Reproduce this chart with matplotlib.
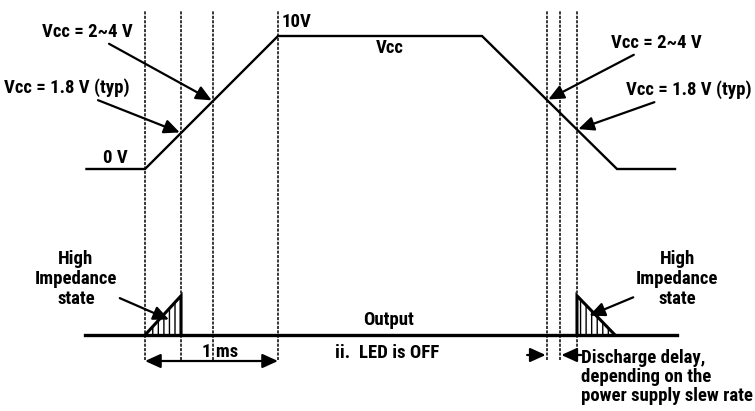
import numpy as np
import matplotlib
matplotlib.use("Agg")
import matplotlib.pyplot as plt
from matplotlib import font_manager
from matplotlib.patches import Polygon
from matplotlib.transforms import Affine2D

# ---------------- data ----------------
# Vcc waveform: time in ms, level in V
vcc_time = [-0.44, 0.0, 1.0, 2.534, 3.549, 3.985]
vcc_level = [0.0, 0.0, 10.0, 10.0, 0.0, 0.0]

# threshold marker times (ms): power-up and power-down
rise_marks = [0.0, 0.271, 0.511, 1.0]
fall_marks = [3.023, 3.120, 3.248]

# output (LED) row: high-impedance ramps
out_time_span = [-0.45, 4.0]
hiz_on = [0.0, 0.271]      # ramp up, then cut
hiz_off = [3.248, 3.534]   # cut up, ramp down
hiz_height = 2.95

labels_left = ["Vcc = 2~4 V", "Vcc = 1.8 V (typ)"]
labels_right = ["Vcc = 2~4 V", "Vcc = 1.8 V (typ)"]

# ---------------- layout ----------------
W, H = 755, 411
X0, XS = 145.0, 133.0     # pixel of t=0, px per ms
Y0, YS = 169.0, 13.3      # pixel of 0 V, px per V
OUT_BASE = (Y0 - 335) / YS

names = {f.name for f in font_manager.fontManager.ttflist}
fam = [n for n in ["Liberation Sans Narrow", "Roboto Condensed", "DejaVu Sans"] if n in names] + ["DejaVu Sans"]
plt.rcParams["font.family"] = fam
plt.rcParams["font.weight"] = "bold"
plt.rcParams["hatch.linewidth"] = 1.0

fig = plt.figure(figsize=(W / 100, H / 100), dpi=100)
ax = fig.add_axes([0, 0, 1, 1])
ax.set_xlim(-X0 / XS, (W - X0) / XS)
ax.set_ylim((Y0 - H) / YS, Y0 / YS)
ax.axis("off")
pix = Affine2D().scale(1 / W, -1 / H).translate(0, 1) + fig.transFigure

FS = 13.5

# Vcc waveform
ax.plot(vcc_time, vcc_level, color="black", lw=1.7, solid_joinstyle="miter")

# dashed markers
dash_top = (Y0 - 10) / YS
dash_bot = (Y0 - 360) / YS
for t in rise_marks + fall_marks:
    ax.plot([t, t], [dash_bot, dash_top], color="black", lw=1.1,
            linestyle=(0, (2.0, 0.9)))

# crossing points
def vcc_at(t):
    return float(np.interp(t, vcc_time, vcc_level))

arrow_kw = dict(arrowstyle="-|>,head_length=0.55,head_width=0.25", color="black",
                lw=1.6, shrinkA=0, shrinkB=1, mutation_scale=17)

# left annotations
ax.annotate(labels_left[0], xy=(rise_marks[2], vcc_at(rise_marks[2])),
            xytext=(133, 32), textcoords=pix, ha="right", va="center",
            fontsize=FS, arrowprops=arrow_kw)
ax.annotate(labels_left[1], xy=(rise_marks[1], vcc_at(rise_marks[1])),
            xytext=(130, 88), textcoords=pix, ha="right", va="center",
            fontsize=FS, arrowprops=arrow_kw)
# right annotations
ax.annotate(labels_right[0], xy=(fall_marks[0], vcc_at(fall_marks[0])),
            xytext=(611, 43), textcoords=pix, ha="left", va="center",
            fontsize=FS, arrowprops=arrow_kw)
ax.annotate(labels_right[1], xy=(fall_marks[2], vcc_at(fall_marks[2])),
            xytext=(626, 90), textcoords=pix, ha="left", va="center",
            fontsize=FS, arrowprops=arrow_kw)

ax.text(103, 158, "0 V", transform=pix, ha="left", va="center", fontsize=FS)
ax.text(282, 22, "10V", transform=pix, ha="left", va="center", fontsize=FS)
ax.text(390, 48, "Vcc", transform=pix, ha="center", va="center", fontsize=FS)

# Output row
ax.plot(out_time_span, [OUT_BASE, OUT_BASE], color="black", lw=2.4)
tri_l = Polygon([[hiz_on[0], OUT_BASE], [hiz_on[1], OUT_BASE + hiz_height],
                 [hiz_on[1], OUT_BASE]], closed=True, fill=False,
                hatch="|||", edgecolor="black", lw=0)
ax.add_patch(tri_l)
ax.plot([hiz_on[0], hiz_on[1], hiz_on[1]],
        [OUT_BASE, OUT_BASE + hiz_height, OUT_BASE], color="black", lw=2.2,
        solid_joinstyle="miter")
tri_r = Polygon([[hiz_off[0], OUT_BASE], [hiz_off[0], OUT_BASE + hiz_height],
                 [hiz_off[1], OUT_BASE]], closed=True, fill=False,
                hatch="|||", edgecolor="black", lw=0)
ax.add_patch(tri_r)
ax.plot([hiz_off[0], hiz_off[0], hiz_off[1]],
        [OUT_BASE, OUT_BASE + hiz_height, OUT_BASE], color="black", lw=2.2,
        solid_joinstyle="miter")

# High impedance labels
ax.annotate("High\nImpedance\nstate",
            xy=(hiz_on[0] + 0.7 * (hiz_on[1] - hiz_on[0]), OUT_BASE + 0.38 * hiz_height),
            xytext=(117, 279), textcoords=pix, ha="right", va="center",
            fontsize=FS, linespacing=1.15, multialignment="center",
            arrowprops=arrow_kw)
ax.annotate("High\nImpedance\nstate",
            xy=(hiz_off[0] + 0.29 * (hiz_off[1] - hiz_off[0]), OUT_BASE + 0.48 * hiz_height),
            xytext=(636, 279), textcoords=pix, ha="left", va="center",
            fontsize=FS, linespacing=1.15, multialignment="center",
            arrowprops=arrow_kw)

ax.text(388, 320, "Output", transform=pix, ha="center", va="center", fontsize=FS)
ax.text(387, 353, "ii.  LED is OFF", transform=pix, ha="center", va="center", fontsize=FS)

# 1 ms dimension
y_dim = (Y0 - 361) / YS
ax.annotate("", xy=(rise_marks[0], y_dim), xytext=(rise_marks[3], y_dim),
            arrowprops=dict(arrowstyle="<|-|>,head_length=0.55,head_width=0.25",
                            color="black", lw=1.6, shrinkA=0, shrinkB=0,
                            mutation_scale=17))
ax.text(220, 352, "1 ms", transform=pix, ha="center", va="center", fontsize=FS)

# discharge delay
y_dd = (Y0 - 355) / YS
ax.annotate("", xy=(fall_marks[0], y_dd), xytext=(fall_marks[0] - 0.15, y_dd),
            arrowprops=arrow_kw)
ax.annotate("", xy=(fall_marks[1], y_dd), xytext=(fall_marks[1] + 0.16, y_dd),
            arrowprops=arrow_kw)
ax.text(581, 377, "Discharge delay,\ndepending on the\npower supply slew rate",
        transform=pix, ha="left", va="center", fontsize=FS, linespacing=1.05)

fig.savefig("out.png", dpi=100)
